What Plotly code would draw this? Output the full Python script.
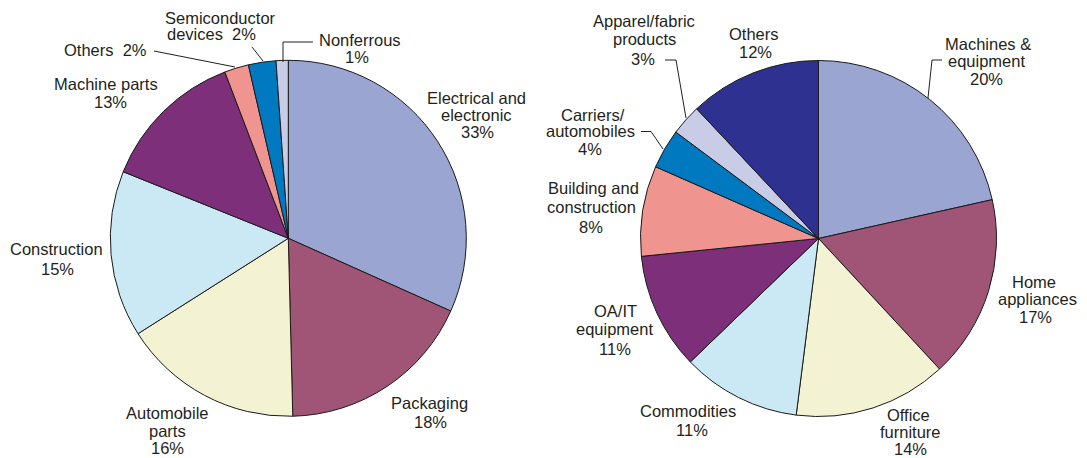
import plotly.graph_objects as go

W, H = 1087, 458

# ---------------- data ----------------
left_categories = ["Electrical and\nelectronic", "Packaging", "Automobile\nparts", "Construction",
                   "Machine parts", "Others", "Semiconductor\ndevices", "Nonferrous"]
left_values = [31.7, 17.9, 16.4, 15.1, 13.1, 2.2, 2.5, 1.1]      # slice sizes as drawn
left_printed_pct = [33, 18, 16, 15, 13, 2, 2, 1]                 # percentages printed on labels

right_categories = ["Machines &\nequipment", "Home\nappliances", "Office\nfurniture", "Commodities",
                    "OA/IT\nequipment", "Building and\nconstruction", "Carriers/\nautomobiles",
                    "Apparel/fabric\nproducts", "Others"]
right_values = [21.5, 16.6, 13.9, 10.8, 10.6, 8.2, 3.6, 2.8, 12.0]
right_printed_pct = [20, 17, 14, 11, 11, 8, 4, 3, 12]

# ---------------- styles ----------------
left_colors = ["#9AA5D2", "#A05577", "#F3F2D3", "#CBE9F4", "#7D2F7A", "#F0948F", "#0079C1", "#C8CCE6"]
right_colors = ["#9AA5D2", "#A05577", "#F3F2D3", "#CBE9F4", "#7D2F7A", "#F0948F", "#0079C1", "#C8CCE6", "#2E3190"]

# pie placement (pixel centre, radius)
LEFT_C, RIGHT_C, RADIUS = (288.3, 238.3), (818.5, 238.5), 178

# label line positions (pixel centres), one per text line; inline = pct on same line as last name line
left_label_pos = [
    {"lines": [(476, 98), (476, 115), (477, 132)]},
    {"lines": [(429, 403), (430, 422)]},
    {"lines": [(167, 413), (167, 431), (167, 448)]},
    {"lines": [(56, 249), (57, 269)]},
    {"lines": [(106, 84), (110, 102)]},
    {"lines": [(105, 50)], "inline": True},
    {"lines": [(220, 18), (211, 34)], "inline": True},
    {"lines": [(360, 40), (357, 57)]},
]
right_label_pos = [
    {"lines": [(988, 44), (987, 61), (987, 79)]},
    {"lines": [(1034, 282), (1037, 299), (1035, 317)]},
    {"lines": [(909, 415), (910, 432), (910, 449)]},
    {"lines": [(688, 411), (692, 430)]},
    {"lines": [(615, 311), (614, 329), (615, 349)]},
    {"lines": [(593, 188), (591, 207), (591, 227)]},
    {"lines": [(593, 115), (590, 131), (590, 149)]},
    {"lines": [(644, 21), (644, 39), (643, 59)]},
    {"lines": [(754, 34), (755, 52)]},
]

# leader lines (pixel polylines)
leaders = [
    [(154, 51), (235, 67)],
    [(252, 47), (263, 61)],
    [(313, 42), (283, 42), (283, 62)],
    [(665, 60), (676, 60), (686, 118)],
    [(641, 131.5), (651, 131.5), (663, 149)],
    [(942, 60), (932, 60), (928, 98)],
]

FONT = dict(family="Liberation Sans, Arial, Helvetica, sans-serif", size=16.5, color="#231F20")


def px(x):
    return x / W


def py(y):
    return 1 - y / H


def domain(c):
    cx, cy = c
    return dict(x=[px(cx - RADIUS), px(cx + RADIUS)], y=[py(cy + RADIUS), py(cy - RADIUS)])


fig = go.Figure()
for cats, vals, cols, c in [(left_categories, left_values, left_colors, LEFT_C),
                            (right_categories, right_values, right_colors, RIGHT_C)]:
    fig.add_trace(go.Pie(
        labels=[s.replace("\n", " ") for s in cats], values=vals,
        marker=dict(colors=cols, line=dict(color="#1A1A1A", width=1)),
        sort=False, direction="clockwise", rotation=0,
        textinfo="none", hoverinfo="label+value", domain=domain(c),
    ))

annotations = []
for cats, pcts, poss in [(left_categories, left_printed_pct, left_label_pos),
                         (right_categories, right_printed_pct, right_label_pos)]:
    for name, pct, pos in zip(cats, pcts, poss):
        lines = name.split("\n")
        if pos.get("inline"):
            lines[-1] = lines[-1] + "  " + f"{pct}%"
        else:
            lines.append(f"{pct}%")
        for txt, (x, y) in zip(lines, pos["lines"]):
            annotations.append(dict(text=txt, x=px(x), y=py(y), xref="paper", yref="paper",
                                    xanchor="center", yanchor="middle", showarrow=False, font=FONT))

shapes = []
for pts in leaders:
    path = "M " + " L ".join(f"{px(x)},{py(y)}" for x, y in pts)
    shapes.append(dict(type="path", path=path, xref="paper", yref="paper",
                       line=dict(color="#231F20", width=1)))

fig.update_layout(
    width=W, height=H, autosize=False,
    margin=dict(l=0, r=0, t=0, b=0),
    paper_bgcolor="white", plot_bgcolor="white",
    showlegend=False, annotations=annotations, shapes=shapes,
)

fig.write_html("out.html", config={"displayModeBar": False},
               post_script="document.body.style.margin='0';document.body.style.overflow='hidden';")
